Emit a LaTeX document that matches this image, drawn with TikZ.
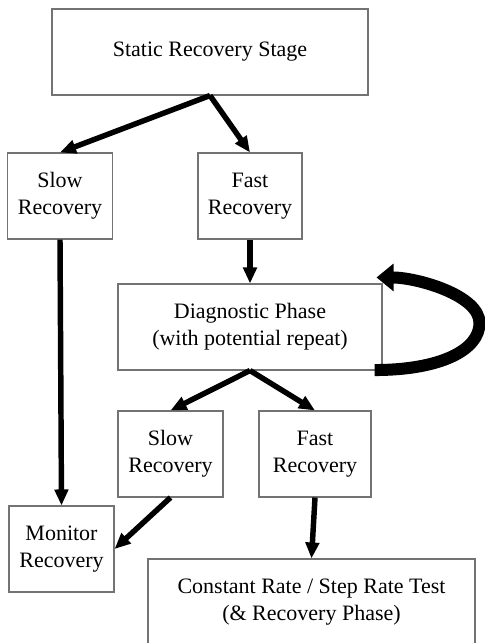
\documentclass[tikz,border=0pt]{standalone}
\usepackage{fontspec}
\setmainfont{Liberation Serif}
\usetikzlibrary{arrows.meta, positioning, calc}

\begin{document}
\begin{tikzpicture}[x=0.75pt, y=-0.75pt, font=\fontsize{16.5}{20.25}\selectfont,
	box/.style={draw=black!55, line width=0.8pt, rectangle, align=center, minimum height=64.5pt, inner sep=0pt},
	flow/.style={-{Triangle[length=12pt,width=10pt]}, line width=4.1pt},
	repeat/.style={-{Triangle[length=12.75pt,width=20pt]}, line width=9pt}]
	\useasboundingbox (0,0) rectangle (485,643);
	\node[box, minimum width=237pt] (stage) at (210,52) {Static Recovery Stage};
	\node[box, minimum width=78.75pt] (slow1) at (60,196) {Slow\\Recovery};
	\node[box, minimum width=78pt] (fast1) at (250,196) {Fast\\Recovery};
	\node[box, minimum width=198pt] (diag) at (250,327) {Diagnostic Phase\\(with potential repeat)};
	\node[box, minimum width=78.75pt] (slow2) at (170.5,454) {Slow\\Recovery};
	\node[box, minimum width=84pt] (fast2) at (315,454) {Fast\\Recovery};
	\node[box, minimum width=78.75pt] (monitor) at (61.5,549) {Monitor\\Recovery};
	\node[box, minimum width=245.25pt] (test) at (311.5,602) {Constant Rate / Step Rate Test\\(\& Recovery Phase)};
	\draw[flow] (stage.south) -- (slow1.north);
	\draw[flow] (stage.south) -- (fast1.north);
	\draw[flow] (fast1.south) -- (diag.north);
	\draw[flow] (slow1.south) -- (monitor.north);
	\draw[flow] (diag.south) -- (slow2.north);
	\draw[flow] (diag.south) -- (fast2.north);
	\draw[flow] (slow2.south) -- (monitor.east);
	\draw[flow] (fast2.south) -- (test.north);
%	repeat loop on the diagnostic phase
	\draw[repeat] ($(diag.south east)+(-8,-0.5)$) .. controls +(66,0) and +(0,27) .. ($(diag.east)+(97,-4)$)
		.. controls +(0,-28) and +(40,0) .. ($(diag.north east)+(-6,-6)$);
\end{tikzpicture}
\end{document}
